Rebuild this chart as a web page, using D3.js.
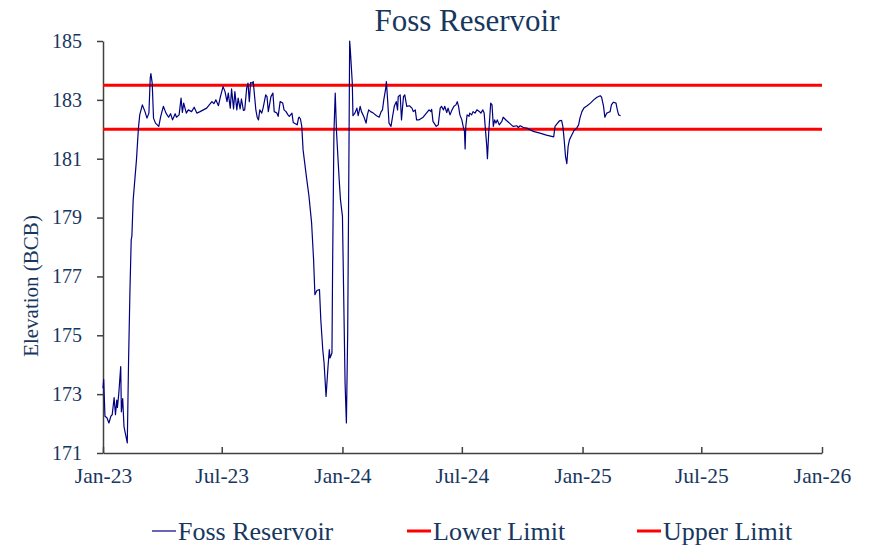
<!DOCTYPE html>
<html>
<head>
<meta charset="utf-8">
<script src="https://cdn.jsdelivr.net/npm/d3@7"></script>
<style>
  body { margin: 0; background: #fff; }
  svg text { font-family: "Liberation Serif", "Times New Roman", serif; fill: #17375e; }
</style>
</head>
<body>
<svg id="chart" width="871" height="545"></svg>
<script>
// daily elevation readings
const seriesDates = [
  '2023-01-01','2023-01-02','2023-01-04','2023-01-07','2023-01-10','2023-01-13','2023-01-15','2023-01-18',
  '2023-01-20','2023-01-22','2023-01-23','2023-01-25','2023-01-28','2023-01-29','2023-01-31','2023-02-02',
  '2023-02-07','2023-02-09','2023-02-11','2023-02-13','2023-02-14','2023-02-16','2023-02-21','2023-02-24',
  '2023-02-26','2023-03-02','2023-03-06','2023-03-09','2023-03-12','2023-03-14','2023-03-15','2023-03-17',
  '2023-03-19','2023-03-22','2023-03-27','2023-03-30','2023-04-03','2023-04-07','2023-04-11','2023-04-14',
  '2023-04-17','2023-04-21','2023-04-23','2023-04-27','2023-04-30','2023-05-02','2023-05-04','2023-05-08',
  '2023-05-11','2023-05-16','2023-05-20','2023-05-24','2023-05-29','2023-06-08','2023-06-16','2023-06-19',
  '2023-06-22','2023-06-26','2023-06-29','2023-07-03','2023-07-06','2023-07-09','2023-07-11','2023-07-14',
  '2023-07-16','2023-07-19','2023-07-21','2023-07-24','2023-07-26','2023-07-29','2023-07-31','2023-08-03',
  '2023-08-05','2023-08-08','2023-08-10','2023-08-12','2023-08-14','2023-08-17','2023-08-18','2023-08-22',
  '2023-08-24','2023-08-26','2023-08-28','2023-08-31','2023-09-02','2023-09-06','2023-09-08','2023-09-10',
  '2023-09-14','2023-09-17','2023-09-19','2023-09-23','2023-09-25','2023-09-28','2023-10-02','2023-10-04',
  '2023-10-07','2023-10-10','2023-10-12','2023-10-16','2023-10-18','2023-10-22','2023-10-24','2023-10-26',
  '2023-10-27','2023-10-29','2023-10-31','2023-11-02','2023-11-07','2023-11-11','2023-11-15','2023-11-18',
  '2023-11-20','2023-11-23','2023-11-27','2023-11-29','2023-12-02','2023-12-04','2023-12-07','2023-12-10',
  '2023-12-12','2023-12-13','2023-12-16','2023-12-17','2023-12-19','2023-12-21','2023-12-23','2023-12-27',
  '2023-12-29','2024-01-01','2024-01-03','2024-01-05','2024-01-07','2024-01-09','2024-01-11','2024-01-12',
  '2024-01-13','2024-01-16','2024-01-17','2024-01-20','2024-01-23','2024-01-25','2024-01-28','2024-01-30',
  '2024-02-03','2024-02-06','2024-02-08','2024-02-10','2024-02-13','2024-02-17','2024-02-22','2024-02-26',
  '2024-02-29','2024-03-02','2024-03-04','2024-03-07','2024-03-08','2024-03-10','2024-03-12','2024-03-15',
  '2024-03-17','2024-03-20','2024-03-23','2024-03-25','2024-03-26','2024-03-29','2024-03-31','2024-04-03',
  '2024-04-05','2024-04-08','2024-04-12','2024-04-16','2024-04-18','2024-04-21','2024-04-23','2024-04-27',
  '2024-05-03','2024-05-08','2024-05-12','2024-05-15','2024-05-16','2024-05-18','2024-05-23','2024-05-26',
  '2024-05-29','2024-05-31','2024-06-03','2024-06-05','2024-06-08','2024-06-10','2024-06-13','2024-06-16',
  '2024-06-19','2024-06-22','2024-06-24','2024-06-26','2024-06-28','2024-07-01','2024-07-03','2024-07-05',
  '2024-07-06','2024-07-07','2024-07-09','2024-07-12','2024-07-13','2024-07-16','2024-07-18','2024-07-21',
  '2024-07-24','2024-07-28','2024-07-30','2024-08-02','2024-08-04','2024-08-06','2024-08-08','2024-08-09',
  '2024-08-11','2024-08-14','2024-08-16','2024-08-18','2024-08-20','2024-08-22','2024-08-24','2024-08-27',
  '2024-08-31','2024-09-02','2024-09-07','2024-09-12','2024-09-17','2024-09-23','2024-09-25','2024-09-28',
  '2024-10-03','2024-10-08','2024-10-18','2024-10-28','2024-11-07','2024-11-18','2024-11-20','2024-11-23',
  '2024-11-27','2024-11-30','2024-12-02','2024-12-04','2024-12-06','2024-12-08','2024-12-10','2024-12-12',
  '2024-12-15','2024-12-19','2024-12-23','2024-12-26','2024-12-28','2024-12-31','2025-01-03','2025-01-08',
  '2025-01-13','2025-01-18','2025-01-23','2025-01-28','2025-01-30','2025-02-02','2025-02-04','2025-02-07',
  '2025-02-09','2025-02-12','2025-02-14','2025-02-17','2025-02-21','2025-02-23','2025-02-25','2025-02-28'
]
const seriesValues = [
  173.2,173.5,172.25,172.2,172.02,172.25,172.3,172.88,
  172.3,172.8,172.55,173.0,173.94,172.4,172.85,171.9,
  171.34,174.17,176.44,178.25,178.36,179.6,180.96,182.04,
  182.49,182.83,182.6,182.38,182.55,183.74,183.89,183.57,
  182.38,182.21,182.1,182.44,182.78,182.55,182.41,182.53,
  182.32,182.53,182.41,182.49,183.06,182.57,182.89,182.55,
  182.66,182.6,182.75,182.55,182.6,182.72,182.94,182.87,
  183.0,182.8,183.11,183.45,183.28,182.94,183.23,182.72,
  183.37,182.69,183.28,182.66,183.06,182.69,183.03,182.64,
  182.66,183.4,183.57,182.94,183.59,183.57,183.62,182.66,
  182.41,182.32,182.66,182.55,182.72,183.17,183.11,182.6,
  183.11,183.23,182.6,182.55,182.44,182.94,182.89,182.66,
  182.6,182.49,182.44,182.55,182.23,182.18,182.15,182.38,
  182.41,182.35,182.1,181.3,180.4,179.72,178.81,177.57,
  176.38,176.52,176.55,175.53,174.51,174.06,172.92,173.94,
  174.51,174.23,174.4,177.34,181.87,183.23,181.9,180.29,
  179.6,179.04,176.2,173.38,172.02,175.08,181.5,185.0,
  184.7,183.57,182.46,182.55,182.72,182.46,182.78,182.6,
  182.41,182.21,182.49,182.66,182.6,182.55,182.46,182.41,
  182.6,182.66,183.0,183.4,183.62,182.94,182.21,182.1,
  182.38,182.78,182.94,182.66,183.11,183.17,182.32,183.11,
  183.17,182.78,182.8,182.72,182.6,182.66,182.32,182.32,
  182.41,182.55,182.66,182.6,182.68,182.27,182.1,182.15,
  182.72,182.78,182.66,182.78,182.57,182.72,182.49,182.66,
  182.78,182.83,182.94,182.78,182.49,182.32,182.1,181.93,
  181.33,182.1,182.49,182.44,182.55,182.49,182.6,182.55,
  182.66,182.6,182.55,182.66,182.55,181.98,181.42,181.0,
  181.9,182.89,182.83,182.1,182.32,182.21,182.32,182.15,
  182.27,182.41,182.3,182.2,182.1,182.12,182.06,182.12,
  182.06,182.04,181.93,181.87,181.8,181.74,182.1,182.18,
  182.29,182.3,182.1,181.64,181.08,180.83,181.42,181.64,
  181.78,181.96,182.04,182.15,182.38,182.6,182.72,182.8,
  182.89,183.0,183.09,183.14,183.09,182.78,182.41,182.55,
  182.57,182.6,182.83,182.92,182.89,182.66,182.49,182.46
]

const lowerLimit = 182
const upperLimit = 183.5

const xTicks = ['2023-01-01','2023-07-01','2024-01-01','2024-07-01','2025-01-01','2025-07-01','2026-01-01']
const yTicks = [171, 173, 175, 177, 179, 181, 183, 185]
const legendNames = ['Foss Reservoir', 'Lower Limit', 'Upper Limit']

const parse = d3.timeParse('%Y-%m-%d')
const fmt = d3.timeFormat('%b-%y')

const svg = d3.select('#chart')
const plotLeft = 103, plotRight = 822, plotTop = 41, plotBottom = 453

const x = d3.scaleTime()
    .domain([parse(xTicks[0]), parse(xTicks[xTicks.length - 1])])
    .range([plotLeft, plotRight])
const y = d3.scaleLinear().domain([171, 185]).range([plotBottom, plotTop])

const data = seriesDates.map((d, i) => ({date: parse(d), value: seriesValues[i]}))

// title
svg.append('text')
    .attr('x', 467)
    .attr('y', 31)
    .attr('text-anchor', 'middle')
    .style('font-size', '31px')
    .text('Foss Reservoir')

// axes
const yAxis = svg.append('g')
    .attr('transform', `translate(${plotLeft},0)`)
    .call(d3.axisLeft(y).tickValues(yTicks).tickSizeInner(6).tickSizeOuter(0).tickPadding(15).tickFormat(d3.format('d')))
const xAxis = svg.append('g')
    .attr('transform', `translate(0,${plotBottom})`)
    .call(d3.axisBottom(x).tickValues(xTicks.map(parse)).tickSizeInner(-6).tickSizeOuter(0).tickPadding(10).tickFormat(fmt))

for (const ax of [xAxis, yAxis]) {
    ax.select('.domain').attr('stroke', '#404040').attr('stroke-width', 1.5)
    ax.selectAll('.tick line').attr('stroke', '#404040').attr('stroke-width', 1.5)
    ax.selectAll('.tick text').style('font-size', '20px').attr('fill', '#17375e')
}
xAxis.selectAll('.tick text').style('font-size', '21.5px').attr('dy', '0.95em')

svg.append('text')
    .attr('transform', 'translate(38,286) rotate(-90)')
    .attr('text-anchor', 'middle')
    .style('font-size', '21px')
    .text('Elevation (BCB)')

// limit lines
svg.selectAll('line.limit')
    .data([lowerLimit, upperLimit])
    .enter()
    .append('line')
    .attr('class', 'limit')
    .attr('x1', plotLeft)
    .attr('x2', plotRight)
    .attr('y1', d => y(d))
    .attr('y2', d => y(d))
    .attr('stroke', '#ff0000')
    .attr('stroke-width', 3)

// series
const line = d3.line().x(d => x(d.date)).y(d => y(d.value))
svg.append('path')
    .datum(data)
    .attr('d', line)
    .attr('fill', 'none')
    .attr('stroke', '#000080')
    .attr('stroke-width', 1.2)
    .attr('stroke-linejoin', 'round')

// legend
const legendX = [152, 407, 637]
const legend = svg.append('g')
legendNames.forEach((name, i) => {
    const g = legend.append('g').attr('transform', `translate(${legendX[i]},531)`)
    g.append('line')
        .attr('x1', 0).attr('x2', 24)
        .attr('stroke', i === 0 ? '#000080' : '#ff0000')
        .attr('stroke-width', i === 0 ? 1.2 : 3)
    g.append('text')
        .attr('x', 26)
        .attr('dy', '0.35em')
        .style('font-size', '26px')
        .text(name)
})
</script>
</body>
</html>
